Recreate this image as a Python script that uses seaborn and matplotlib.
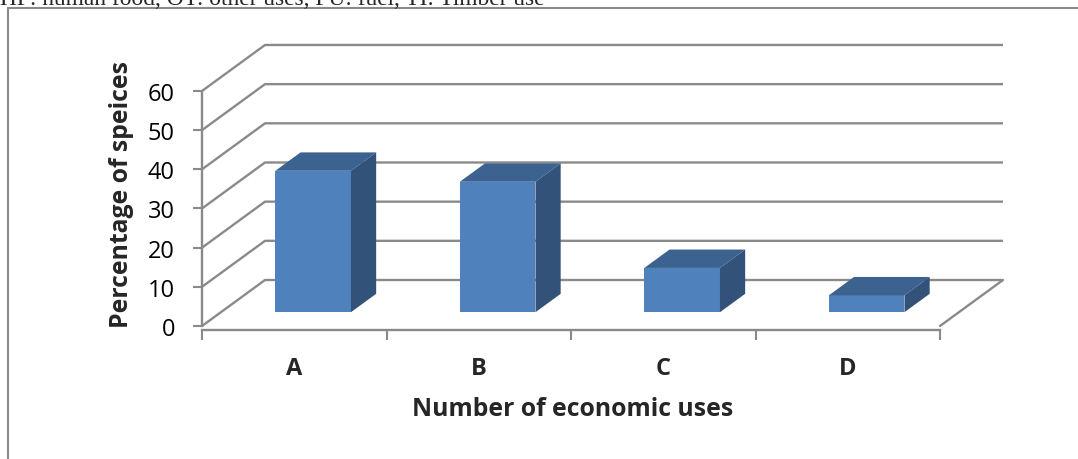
import pandas as pd
import seaborn as sns
import matplotlib.pyplot as plt
import matplotlib.transforms as mtransforms
from matplotlib.patches import Polygon
from matplotlib.lines import Line2D

# data
categories = ['A', 'B', 'C', 'D']
percent = [36.1, 33.3, 11.3, 4.3]
y_ticks = [0, 10, 20, 30, 40, 50, 60]
x_label = 'Number of economic uses'
y_label = 'Percentage of speices'
note = 'HF: human food, OT: other uses, FU: fuel, TI: Timber use'

sns.set_style('white')
plt.rcParams['font.family'] = ['Open Sans', 'DejaVu Sans']

grid_col = '#8a8a8a'
front_col = '#4F81BD'
top_col = '#3C6290'
side_col = '#32527A'

W, H = 1078, 460
fig = plt.figure(figsize=(W / 100, H / 100), dpi=100)

# layout in pixels (front plane of the 3d box)
x0_px, x1_px = 202, 940
y0_px = 327
px_per_unit = 3.917
right_px, top_px, bottom_px = 1012, 38, 331
cat_px = (x1_px - x0_px) / len(categories)

ax = fig.add_axes([x0_px / W, 1 - bottom_px / H,
                   (right_px - x0_px) / W, (bottom_px - top_px) / H])
ax.patch.set_alpha(0)

# depth of the box (oblique projection) in data units
ddx = 63 / cat_px
ddy = 46 / px_per_unit
t0 = 0.30   # where the bar front faces sit
bd = 0.40   # bar depth

df = pd.DataFrame({'uses': categories, 'pct': percent})
sns.barplot(data=df, x='uses', y='pct', color=front_col, saturation=1,
            width=0.41, linewidth=0, ax=ax, zorder=3)

shift = mtransforms.Affine2D().translate(t0 * ddx, t0 * ddy) + ax.transData
bars = list(ax.patches)
for p in bars:
    p.set_transform(shift)
    xa, xb = p.get_x(), p.get_x() + p.get_width()
    v = p.get_height()
    top = Polygon([(xa, v), (xb, v), (xb + bd * ddx, v + bd * ddy), (xa + bd * ddx, v + bd * ddy)],
                  closed=True, facecolor=top_col, edgecolor='none', transform=shift, zorder=3)
    side = Polygon([(xb, 0), (xb, v), (xb + bd * ddx, v + bd * ddy), (xb + bd * ddx, bd * ddy)],
                   closed=True, facecolor=side_col, edgecolor='none', transform=shift, zorder=3)
    ax.add_patch(top)
    ax.add_patch(side)

# walls and floor
n = len(categories)
for v in y_ticks:
    ax.plot([-0.5, -0.5 + ddx, n - 0.5 + ddx], [v, v + ddy, v + ddy],
            color=grid_col, lw=1.7, zorder=1, solid_capstyle='butt')
ax.plot([n - 0.5, n - 0.5 + ddx], [0, ddy], color=grid_col, lw=1.7, zorder=1)

ax.set_xlim(-0.5, -0.5 + (right_px - x0_px) / cat_px)
ax.set_ylim(-(bottom_px - y0_px) / px_per_unit, (y0_px - top_px) / px_per_unit)

for s in ['top', 'right']:
    ax.spines[s].set_visible(False)
ax.spines['left'].set_bounds(0, 60)
ax.spines['bottom'].set_bounds(-0.5, n - 0.5)
for s in ['left', 'bottom']:
    ax.spines[s].set_color(grid_col)
    ax.spines[s].set_linewidth(1.7)

ax.set_yticks(y_ticks)
ax.tick_params(axis='y', left=True, direction='out', length=6.5, width=1.5,
               color=grid_col, labelsize=17, pad=13, labelcolor='black')
ax.set_xticks(range(n))
ax.set_xticklabels(categories, fontweight='bold')
ax.set_xticks([i - 0.5 for i in range(n + 1)], minor=True)
ax.tick_params(axis='x', which='major', bottom=True, length=0, labelsize=17, pad=19)
ax.tick_params(axis='x', which='minor', bottom=True, direction='out', length=7,
               width=1.5, color=grid_col)

ax.set_ylabel(y_label, fontsize=17.8, fontweight='bold')
ax.yaxis.set_label_coords(134 / W, 1 - 194 / H, transform=fig.transFigure)
ax.set_xlabel(x_label, fontsize=17.8, fontweight='bold')
ax.xaxis.set_label_coords(573 / W, 1 - 397 / H, transform=fig.transFigure)

# chart border and cut-off caption
fig.add_artist(Line2D([8 / W, 8 / W], [0, 1 - 9 / H], color=grid_col, lw=1.5))
fig.add_artist(Line2D([8 / W, 1], [1 - 9 / H, 1 - 9 / H], color=grid_col, lw=1.5))
fig.text(0.0, 1 - 5 / H, note, family=['Liberation Serif'], fontsize=16.8, va='baseline')

fig.savefig('out.png', dpi=100, facecolor='white')
